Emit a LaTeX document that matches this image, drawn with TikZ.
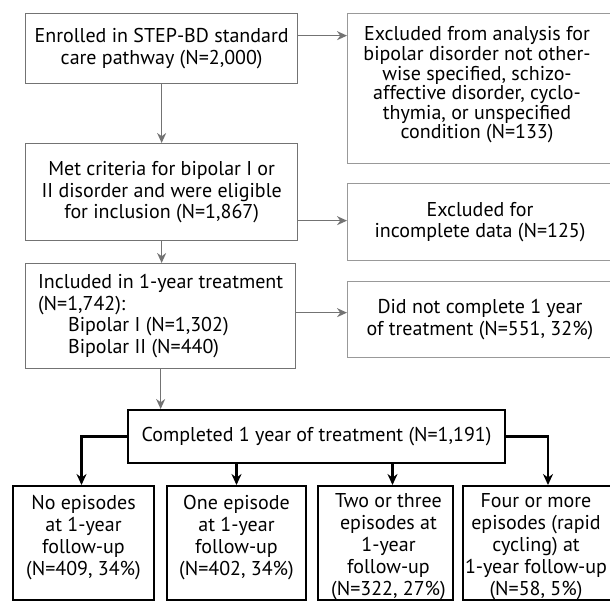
\documentclass[tikz,border=0pt]{standalone}
\usepackage{fontspec}
\setmainfont{PT Sans}
\usetikzlibrary{arrows.meta,calc}
\begin{document}
\begin{tikzpicture}[x=1pt,y=-1pt,
  every node/.style={font=\fontsize{20}{21.5}\selectfont, text=black},
  greybox/.style={draw=black!55, line width=1.3pt, rectangle, inner sep=0pt, anchor=north west, align=center},
  exbox/.style={draw=black!40, line width=1pt, rectangle, inner sep=0pt, anchor=north west, align=center},
  blackbox/.style={draw=black, line width=2pt, rectangle, inner sep=0pt, anchor=north west},
  boxtext/.style={inner sep=0pt, anchor=north, align=center, font=\fontsize{20}{22}\selectfont},
  greyarrow/.style={draw=black!55, line width=1.3pt, -{Stealth[length=10pt,width=9pt]}},
  blackline/.style={draw=black, line width=2.2pt, -{Stealth[length=11pt,width=10pt]}},
  ]
\useasboundingbox (0,0) rectangle (610,608);

% left column
\node[greybox, minimum width=272pt, minimum height=70pt] (A) at (25,13)
  {Enrolled in STEP-BD standard\\care pathway (N=2,000)};
\node[greybox, minimum width=272pt, minimum height=97pt] (B) at (25,143)
  {Met criteria for bipolar I or\\II disorder and were eligible\\for inclusion (N=1,867)};
\node[greybox, align=left, minimum width=270pt, minimum height=105pt] (C) at (25,263)
  {Included in 1-year treatment\\(N=1,742):\\\hspace*{30pt}Bipolar I (N=1,302)\\\hspace*{30pt}Bipolar II (N=440)};

% right column (exclusions)
\node[exbox, minimum width=265pt, minimum height=150pt] (E1) at (347,13) {};
\node[inner sep=0pt, align=center, font=\fontsize{20}{19.6}\selectfont] (E1T) at ([xshift=-3pt,yshift=3.5pt]E1.center)
  {Excluded from analysis for\\bipolar disorder not other-\\wise specified, schizo-\\affective disorder, cyclo-\\thymia, or unspecified\\condition (N=133)};
\node[exbox, minimum width=265pt, minimum height=77pt] (E2) at (347,183)
  {Excluded for\\incomplete data (N=125)};
\node[exbox, minimum width=265pt, minimum height=76pt] (E3) at (347,281)
  {Did not complete 1 year\\of treatment (N=551, 32\%)};

% completed
\node[blackbox, minimum width=377pt, minimum height=53pt] (D) at (127,409)
  {Completed 1 year of treatment (N=1,191)};

% outcome boxes
\node[blackbox, minimum width=141pt, minimum height=114pt] (F1) at (12,485) {};
\node[blackbox, minimum width=139pt, minimum height=114pt] (F2) at (166,485) {};
\node[blackbox, minimum width=135pt, minimum height=114pt] (F3) at (317,485) {};
\node[blackbox, minimum width=150pt, minimum height=114pt] (F4) at (462,485) {};

\node[boxtext] (T1) at ([yshift=-10pt]F1.north) {No episodes\\at 1-year\\follow-up\\(N=409, 34\%)};
\node[boxtext] (T2) at ([yshift=-10pt]F2.north) {One episode\\at 1-year\\follow-up\\(N=402, 34\%)};
\node[boxtext] (T3) at ([yshift=-8pt,xshift=3pt]F3.north) {Two or three\\episodes at\\1-year\\follow-up\\(N=322, 27\%)};
\node[boxtext] (T4) at ([yshift=-8pt,xshift=-2pt]F4.north) {Four or more\\episodes (rapid\\cycling) at\\1-year follow-up\\(N=58, 5\%)};

% grey connectors
\draw[greyarrow] (A.south) -- (B.north);
\draw[greyarrow] (B.south) -- (B.south |- C.north);
\draw[greyarrow] (C.south) -- (C.south |- D.north);
\draw[greyarrow] ([yshift=13pt]A.east) -- ([yshift=13pt]A.east -| E1.west);
\draw[greyarrow] ([yshift=-28.5pt]B.east) -- ([yshift=-28.5pt]B.east -| E2.west);
\draw[greyarrow] ([yshift=3.5pt]C.east) -- ([yshift=3.5pt]C.east -| E3.west);

% black connectors
\draw[blackline] (D.west) -| ([xshift=-2pt]F1.north);
\draw[blackline] (F2.north |- D.south) -- (F2.north);
\draw[blackline] ([xshift=7pt]F3.north |- D.south) -- ([xshift=7pt]F3.north);
\draw[blackline] (D.east) -| ([xshift=10pt]F4.north);
\end{tikzpicture}
\end{document}
